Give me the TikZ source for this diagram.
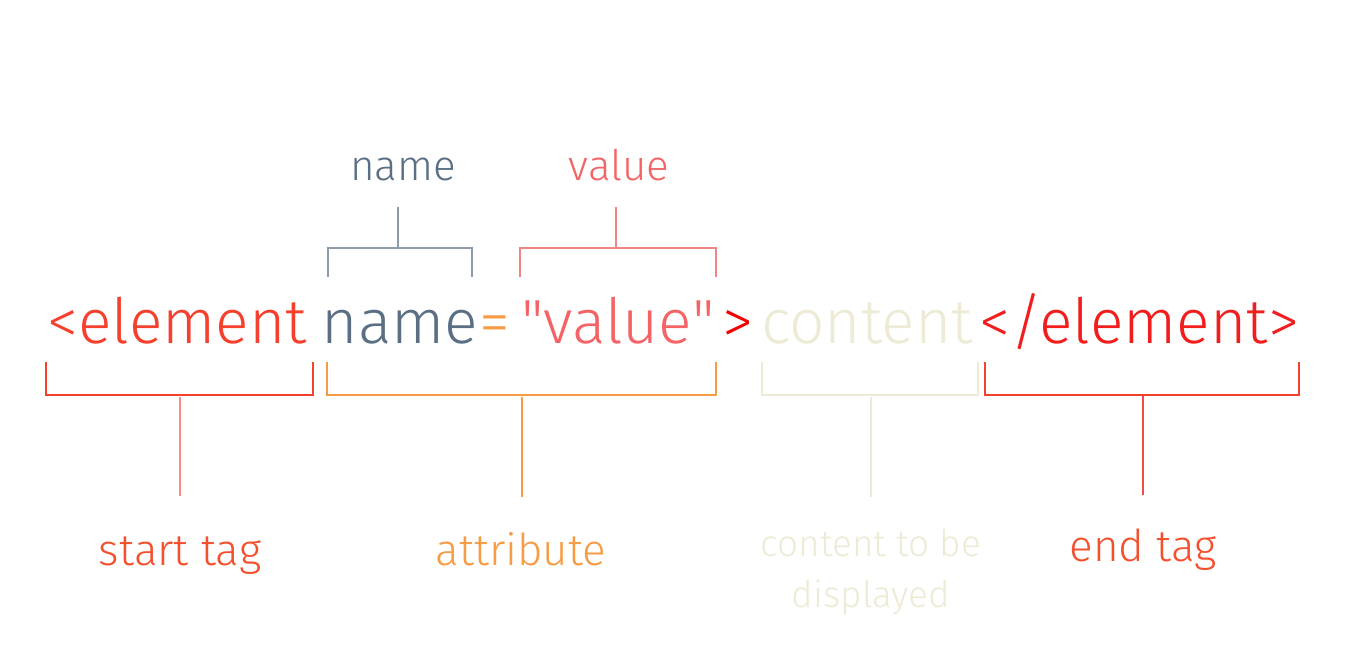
\documentclass[tikz,border=0pt]{standalone}
\usepackage{fontspec}
\setmainfont{Fira Sans Light}
\begin{document}
\begin{tikzpicture}[x=0.02cm, y=-0.02cm,
  code/.style={anchor=base, inner sep=0pt, font=\fontsize{35.5}{42}\selectfont},
  toplabel/.style={anchor=base, inner sep=0pt, font=\fontsize{24}{29}\selectfont},
  botlabel/.style={anchor=base, inner sep=0pt, font=\fontsize{25}{30}\selectfont},
  brace/.style={line width=0.6pt}]
  % Anatomy of an element
  \definecolor{tagred}{HTML}{F4402C}
  \definecolor{endred}{HTML}{F21D1D}
  \definecolor{slate}{HTML}{5B6F84}
  \definecolor{slateline}{HTML}{8C9CAD}
  \definecolor{attr}{HTML}{F79B45}
  \definecolor{coral}{HTML}{F46467}
  \definecolor{coralline}{HTML}{F08585}
  \definecolor{cream}{HTML}{EDEAD6}
  \definecolor{taglabel}{HTML}{F4502E}
  \definecolor{stemred}{HTML}{F58C84}
  \useasboundingbox (0,0) rectangle (1346,652);

  \node[code, text=tagred] (stag) at (177,343) {<element};
  \node[code, text=slate] (aname) at (400,343) {name};
  \node[code, text=attr] (eq) at (495,343) {=};
  \node[code, text=coral] (aval) at (618,343) {\textquotedbl value\textquotedbl};
  \node[code, text=red!95!black] (gt) at (738,343) {>};
  \node[code, text=cream] (cont) at (867,343) {content};
  \node[code, text=endred] (etag) at (1139,343) {</element>};

  % over the attribute
  \node[toplabel, text=slate] (nm) at (403,180) {name};
  \node[toplabel, text=coral] (vl) at (619,180) {value};
  \coordinate (nmtop) at (398,207);
  \coordinate (nmmid) at (398,248);
  \coordinate (vltop) at (616,207);
  \coordinate (vlmid) at (616,248);
  \draw[brace, slateline] (328,277) |- (472,248) -- (472,277);
  \draw[brace, slateline] (nmtop) -- (nmmid);
  \draw[brace, coralline] (520,277) |- (716,248) -- (716,277);
  \draw[brace, coralline] (vltop) -- (vlmid);

  % under the line
  \draw[brace, tagred] (46,362) |- (313,395) -- (313,362);
  \draw[brace, attr] (327,362) |- (716,395) -- (716,362);
  \draw[brace, cream] (762,362) |- (978,395) -- (978,362);
  \draw[brace, tagred] (985,362) |- (1299,395) -- (1299,362);
  \coordinate (s1) at (180,397);
  \coordinate (s2) at (180,496);
  \coordinate (a1) at (522,397);
  \coordinate (a2) at (522,497);
  \coordinate (c1) at (871,397);
  \coordinate (c2) at (871,497);
  \coordinate (e1) at (1143,396);
  \coordinate (e2) at (1143,495);
  \draw[brace, stemred] (s1) -- (s2);
  \draw[brace, attr] (a1) -- (a2);
  \draw[brace, cream] (c1) -- (c2);
  \draw[brace, endred!80] (e1) -- (e2);

  \node[botlabel, text=taglabel] (stl) at (180,565) {start tag};
  \node[botlabel, text=attr] (atl) at (521,565) {attribute};
  \node[anchor=base, inner sep=0pt, align=center, text=cream,
        font=\fontsize{21}{28.5}\selectfont] (ctl) at (871,607) {content to be\\displayed};
  \node[botlabel, text=taglabel] (etl) at (1143,561) {end tag};
\end{tikzpicture}
\end{document}
